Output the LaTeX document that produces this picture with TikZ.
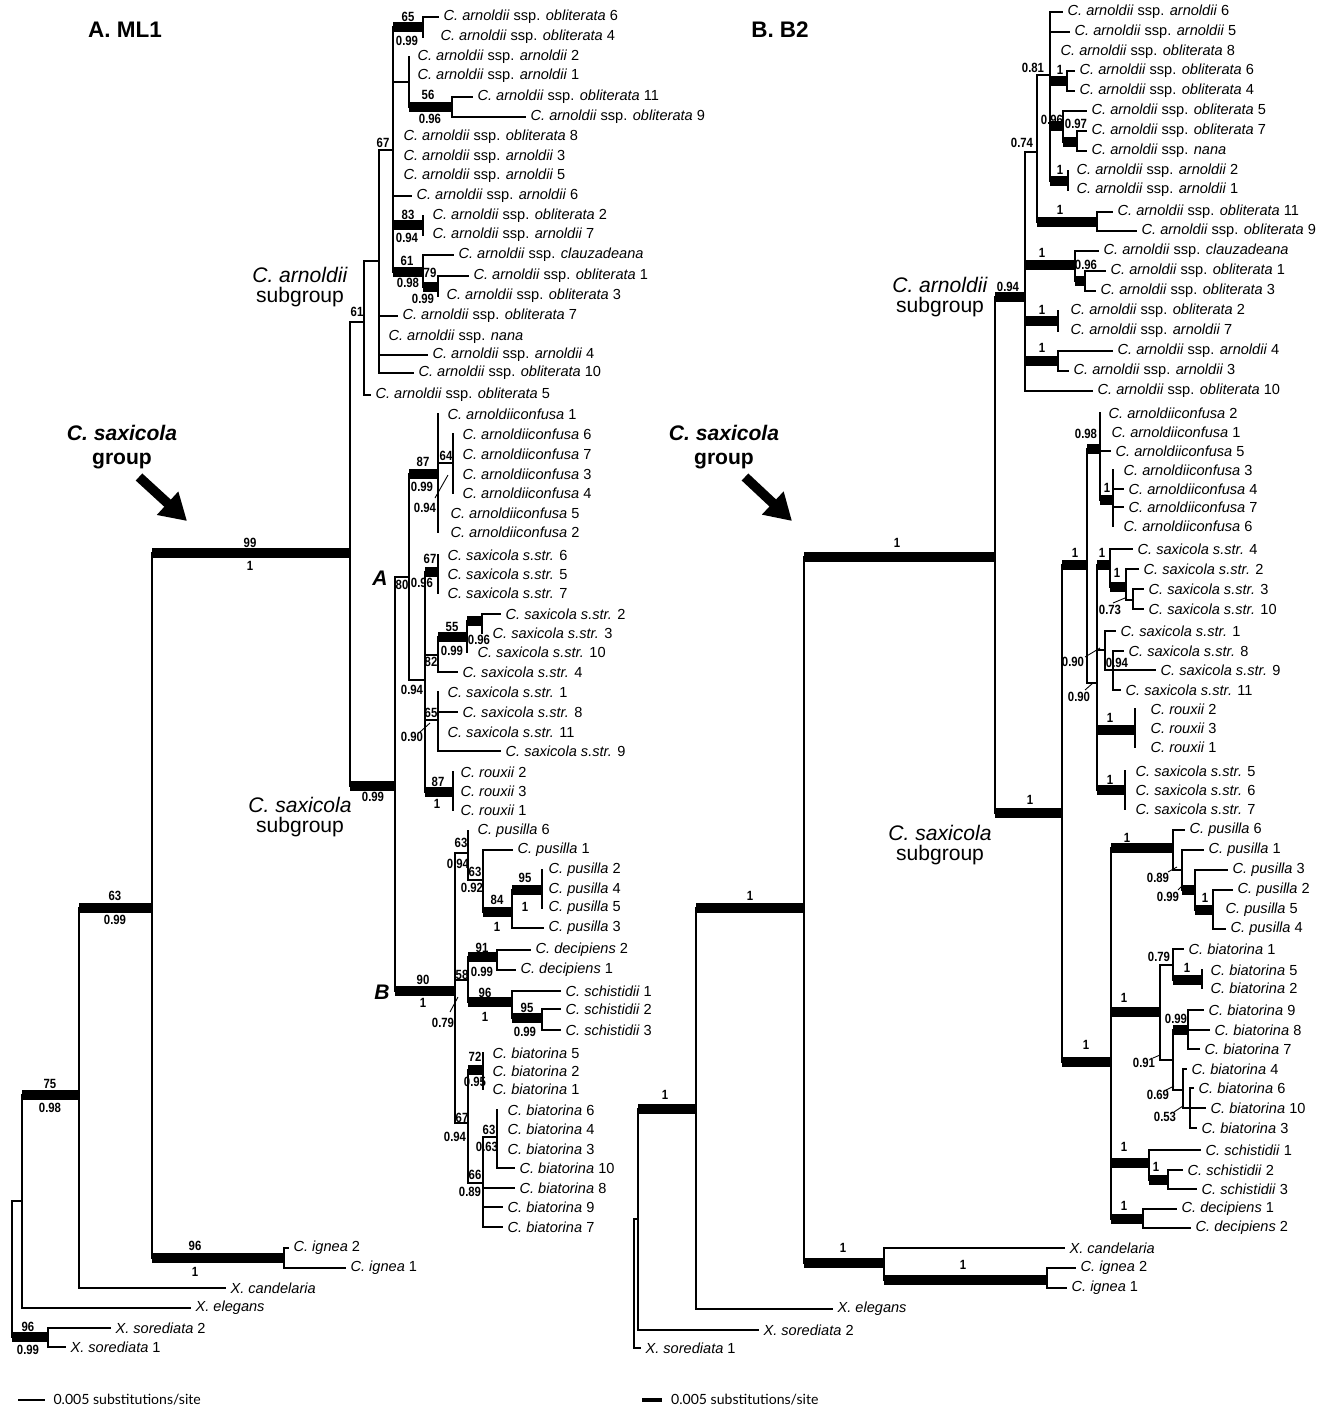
\documentclass[tikz,border=0pt]{standalone}
\usepackage{fontspec}
\setmainfont{Liberation Sans}
\newfontfamily\barfont{Lato}
\newfontfamily\supfont{Liberation Sans}[FakeStretch=0.85]
\usetikzlibrary{arrows.meta}

\newcommand\Ca[2]{\textit{C. arnoldii} ssp. \textit{#1} #2}
\newcommand\Sp[2]{\textit{#1} #2}
\newcommand\twig[2]{\draw[br] (#1 |- #2) -- (#2.west);}

\begin{document}
\begin{tikzpicture}[x=0.02cm, y=-0.02cm,
  br/.style={line width=1.1pt, line cap=rect},
  sbr/.style={line width=5.4pt},
  tip/.style={anchor=west, inner xsep=3pt, inner ysep=1pt, font=\fontsize{8.3}{9}\selectfont},
  sup/.style={inner sep=0pt, font=\supfont\fontsize{7.6}{8}\selectfont\bfseries},
  grp/.style={align=center, font=\fontsize{12}{11.5}\selectfont},
  sgrp/.style={align=center, font=\fontsize{12}{13.6}\selectfont\bfseries},
  hdr/.style={font=\fontsize{12.8}{14}\selectfont\bfseries},
  slash/.style={line width=0.5pt},
  fat/.style={line width=5.5pt, -{Triangle[length=15pt,width=17pt]}}]

\useasboundingbox (0,0) rectangle (1328,1410);

%-- headers
\node[hdr] (hA) at (125,30) {A. ML1};
\node[hdr] (hB) at (780,30) {B. B2};

%================ A. ML1 ================
%-- tips
\foreach \n/\x/\y/\t in {
  aob6/438/17/{\Ca{obliterata}{6}}, aob4/435/37/{\Ca{obliterata}{4}},
  aar2/412/57/{\Ca{arnoldii}{2}}, aar1/412/76/{\Ca{arnoldii}{1}},
  aob11/472/97/{\Ca{obliterata}{11}}, aob9/525/117/{\Ca{obliterata}{9}},
  aob8/398/137/{\Ca{obliterata}{8}}, aar3/398/157/{\Ca{arnoldii}{3}},
  aar5/398/176/{\Ca{arnoldii}{5}}, aar6/411/196/{\Ca{arnoldii}{6}},
  aob2/427/216/{\Ca{obliterata}{2}}, aar7/427/235/{\Ca{arnoldii}{7}},
  acla/453/255/{\Ca{clauzadeana}{}}, aob1/468/276/{\Ca{obliterata}{1}},
  aob3/441/296/{\Ca{obliterata}{3}}, aob7/397/316/{\Ca{obliterata}{7}},
  anana/383/337/{\Ca{nana}{}}, aar4/427/355/{\Ca{arnoldii}{4}},
  aob10/413/373/{\Ca{obliterata}{10}}, aob5/370/395/{\Ca{obliterata}{5}},
  acf1/442/414/{\Sp{C. arnoldiiconfusa}{1}}, acf6/457/434/{\Sp{C. arnoldiiconfusa}{6}},
  acf7/457/454/{\Sp{C. arnoldiiconfusa}{7}}, acf3/457/474/{\Sp{C. arnoldiiconfusa}{3}},
  acf4/457/493/{\Sp{C. arnoldiiconfusa}{4}}, acf5/445/513/{\Sp{C. arnoldiiconfusa}{5}},
  acf2/445/532/{\Sp{C. arnoldiiconfusa}{2}},
  asx6/442/555/{\Sp{C. saxicola s.str.}{6}}, asx5/442/574/{\Sp{C. saxicola s.str.}{5}},
  asx7/442/593/{\Sp{C. saxicola s.str.}{7}}, asx2/500/614/{\Sp{C. saxicola s.str.}{2}},
  asx3/487/633/{\Sp{C. saxicola s.str.}{3}}, asx10/472/652/{\Sp{C. saxicola s.str.}{10}},
  asx4/457/672/{\Sp{C. saxicola s.str.}{4}}, asx1/442/692/{\Sp{C. saxicola s.str.}{1}},
  asx8/457/712/{\Sp{C. saxicola s.str.}{8}}, asx11/442/732/{\Sp{C. saxicola s.str.}{11}},
  asx9/500/751/{\Sp{C. saxicola s.str.}{9}},
  arx2/455/772/{\Sp{C. rouxii}{2}}, arx3/455/791/{\Sp{C. rouxii}{3}},
  arx1/455/810/{\Sp{C. rouxii}{1}},
  apu6/472/831/{\Sp{C. pusilla}{6}}, apu1/512/850/{\Sp{C. pusilla}{1}},
  apu2/543/870/{\Sp{C. pusilla}{2}}, apu4/543/890/{\Sp{C. pusilla}{4}},
  apu5/543/908/{\Sp{C. pusilla}{5}}, apu3/543/928/{\Sp{C. pusilla}{3}},
  ade2/530/950/{\Sp{C. decipiens}{2}}, ade1/515/970/{\Sp{C. decipiens}{1}},
  asc1/560/991/{\Sp{C. schistidii}{1}}, asc2/560/1009/{\Sp{C. schistidii}{2}},
  asc3/560/1030/{\Sp{C. schistidii}{3}},
  abi5/487/1053/{\Sp{C. biatorina}{5}}, abi2/487/1071/{\Sp{C. biatorina}{2}},
  abi1/487/1089/{\Sp{C. biatorina}{1}}, abi6/502/1110/{\Sp{C. biatorina}{6}},
  abi4/502/1129/{\Sp{C. biatorina}{4}}, abi3/502/1149/{\Sp{C. biatorina}{3}},
  abi10/514/1168/{\Sp{C. biatorina}{10}}, abi8/514/1188/{\Sp{C. biatorina}{8}},
  abi9/502/1207/{\Sp{C. biatorina}{9}}, abi7/502/1227/{\Sp{C. biatorina}{7}},
  aig2/288/1248/{\Sp{C. ignea}{2}}, aig1/345/1268/{\Sp{C. ignea}{1}},
  acan/225/1288/{\Sp{X. candelaria}{}}, aele/190/1308/{\Sp{X. elegans}{}},
  aso2/110/1328/{\Sp{X. sorediata}{2}}, aso1/65/1347/{\Sp{X. sorediata}{1}}}
  \node[tip] (\n) at (\x,\y) {\t};

%-- internal nodes (x, height where the node hangs)
\foreach \n/\x/\y in {nAroot/12/1270, nA22/22/1201, nAsor/48/1337, nA75/79/1095,
  nA63/152/908, nAign/284/1258, nA99/350/553, nA61/364/322, nAsub/379/261,
  nA67/393/150, nA65/423/27, nA56p/409/82, nA56/452/107, nA83/423/225,
  nA61b/423/272, nA79/438/287, nAsx/395/786, nA80/409/577, nA87/438/474,
  nA64/453/463, nA94/425/680, nA67s/438/572, nA82/438/655, nA55/467/637,
  nA96/482/621, nA65s/438/720, nA87r/453/792, nAB/455/991, nA63a/468/853,
  nA63b/483/880, nA84/512/912, nA95/542/890, nA58/468/980, nA91/497/957,
  nA96s/512/1002, nA95s/542/1018, nA67b/468/1123, nA72/483/1070,
  nA66/483/1183, nA63c/497/1137}
  \coordinate (\n) at (\x,\y);

%-- vertical spines
\foreach \n/\a/\b in {nAroot/nA22/nAsor, nA22/nA75/aele, nA75/nA63/acan,
  nA63/nA99/nAign, nAign/aig2/aig1, nAsor/aso2/aso1, nA99/nA61/nAsx,
  nA61/nAsub/aob5, nAsub/nA67/aob10, nA67/nA65/nA61b, nA65/aob6/aob4,
  nA56p/aar2/nA56, nA56/aob11/aob9, nA83/aob2/aar7, nA61b/acla/nA79,
  nA79/aob1/aob3, nAsx/nA80/nAB, nA80/nA87/nA94, nA87/acf1/acf2,
  nA64/acf6/acf4, nA94/nA67s/nA87r, nA67s/asx6/asx7, nA82/nA55/asx4,
  nA55/nA96/asx10, nA96/asx2/asx3, nA65s/asx1/asx9, nA87r/arx2/arx1,
  nAB/nA63a/nA67b, nA63a/apu6/nA63b, nA63b/apu1/nA84, nA84/nA95/apu3,
  nA95/apu2/apu5, nA58/nA91/nA96s, nA91/ade2/ade1, nA96s/asc1/nA95s,
  nA95s/asc2/asc3, nA67b/nA72/nA66, nA72/abi5/abi1, nA66/nA63c/abi7,
  nA63c/abi6/abi10}
  \draw[br] (\n |- \a) -- (\n |- \b);

%-- supported branches
\foreach \p/\c in {nA22/nA75, nAroot/nAsor, nA75/nA63, nA63/nA99, nA63/nAign,
  nA99/nAsx, nA67/nA65, nA56p/nA56, nA67/nA83, nA67/nA61b, nA61b/nA79,
  nA80/nA87, nA94/nA67s, nA82/nA55, nA55/nA96, nA94/nA87r, nAsx/nAB,
  nA84/nA95, nA63b/nA84, nA58/nA91, nA58/nA96s, nA96s/nA95s, nA67b/nA72}
  \draw[sbr] (\p |- \c) -- (\c);

%-- other branches
\foreach \p/\c in {nAroot/nA22, nA99/nA61, nA61/nAsub, nAsub/nA67, nA67/nA56p,
  nAsx/nA80, nA87/nA64, nA80/nA94, nA94/nA82, nA94/nA65s, nAB/nA63a,
  nA63a/nA63b, nAB/nA58, nAB/nA67b, nA67b/nA66, nA66/nA63c}
  \draw[br] (\p |- \c) -- (\c);

%-- terminal branches
\foreach \p/\c in {nAign/aig1, nAign/aig2, nA75/acan, nA22/aele, nAsor/aso2,
  nAsor/aso1, nA65/aob6, nA56/aob11, nA56/aob9, nA67/aar6, nA61b/acla,
  nA79/aob1, nAsub/aob7, nAsub/aar4, nAsub/aob10, nA61/aob5, nA96/asx2,
  nA82/asx4, nA65s/asx8, nA65s/asx9, nA63b/apu1, nA84/apu3, nA91/ade2,
  nA91/ade1, nA96s/asc1, nA95s/asc2, nA95s/asc3, nA63c/abi10, nA66/abi8,
  nA66/abi9, nA66/abi7}
  {\twig{\p}{\c}}

%-- support values
\foreach \x/\y/\t [count=\i] in {408/17/65, 407/41/0.99, 428/95/56, 430/119/0.96,
  383/143/67, 408/215/83, 407/238/0.94, 407/261/61, 408/283/0.98, 430/273/79,
  423/299/0.99, 357/312/61, 250/543/99, 250/566/1, 373/797/0.99, 402/585/80,
  423/462/87, 422/487/0.99, 446/456/64, 425/508/0.94, 430/559/67, 422/583/0.96,
  412/690/0.94, 431/662/82, 452/627/55, 452/651/0.99, 479/640/0.96, 431/713/65,
  412/737/0.90, 438/782/87, 437/804/1, 423/980/90, 423/1003/1, 461/843/63,
  458/864/0.94, 475/872/63, 472/888/0.92, 497/900/84, 497/927/1, 525/878/95,
  525/907/1, 462/975/58, 443/1023/0.79, 482/948/91, 482/972/0.99, 485/993/96,
  485/1017/1, 527/1008/95, 525/1032/0.99, 462/1118/67, 455/1137/0.94,
  475/1057/72, 475/1082/0.95, 475/1175/66, 470/1192/0.89, 489/1130/63,
  487/1147/0.63, 115/896/63, 115/920/0.99, 195/1246/96, 195/1272/1,
  50/1084/75, 50/1108/0.98, 28/1327/96, 28/1350/0.99}
  \node[sup] (sa\i) at (\x,\y) {\t};

\draw[slash] (435,498) -- (448,475);
\draw[slash] (420,732) -- (430,723);
\draw[slash] (450,1012) -- (458,997);

%-- clade labels
\node[font=\fontsize{12}{14}\selectfont\bfseries\itshape] (cA) at (380,578) {A};
\node[font=\fontsize{12}{14}\selectfont\bfseries\itshape] (cB) at (382,992) {B};
\node[grp] (gA1) at (300,287) {\textit{C. arnoldii}\\subgroup};
\node[grp] (gA2) at (300,817) {\textit{C. saxicola}\\subgroup};
\node[sgrp] (gA3) at (122,447) {\textit{C. saxicola}\\group};
\draw[fat] (139,477) -- (187,521);

%-- scale
\coordinate (sbA1) at (18,1400);
\coordinate (sbA2) at (45,1400);
\draw[br, line cap=butt] (sbA1) -- (sbA2)
  node[right=1pt, font=\barfont\fontsize{8}{9}\selectfont] (sbtA) {0.005 substitutions/site};

%================ B. B2 ================
%-- tips
\foreach \n/\x/\y/\t in {
  bar6/1062/12/{\Ca{arnoldii}{6}}, bar5/1069/32/{\Ca{arnoldii}{5}},
  bob8/1055/52/{\Ca{obliterata}{8}}, bob6/1074/71/{\Ca{obliterata}{6}},
  bob4/1074/91/{\Ca{obliterata}{4}}, bob5/1086/111/{\Ca{obliterata}{5}},
  bob7/1086/131/{\Ca{obliterata}{7}}, bnana/1086/151/{\Ca{nana}{}},
  bar2/1071/171/{\Ca{arnoldii}{2}}, bar1/1071/190/{\Ca{arnoldii}{1}},
  bob11/1112/212/{\Ca{obliterata}{11}}, bob9/1136/231/{\Ca{obliterata}{9}},
  bcla/1098/251/{\Ca{clauzadeana}{}}, bob1/1105/271/{\Ca{obliterata}{1}},
  bob3/1095/291/{\Ca{obliterata}{3}}, bob2/1065/311/{\Ca{obliterata}{2}},
  bar7/1065/331/{\Ca{arnoldii}{7}}, bar4/1112/351/{\Ca{arnoldii}{4}},
  bar3/1068/371/{\Ca{arnoldii}{3}}, bob10/1092/391/{\Ca{obliterata}{10}},
  bcf2/1103/413/{\Sp{C. arnoldiiconfusa}{2}}, bcf1/1106/432/{\Sp{C. arnoldiiconfusa}{1}},
  bcf5/1110/451/{\Sp{C. arnoldiiconfusa}{5}}, bcf3/1118/470/{\Sp{C. arnoldiiconfusa}{3}},
  bcf4/1123/489/{\Sp{C. arnoldiiconfusa}{4}}, bcf7/1123/507/{\Sp{C. arnoldiiconfusa}{7}},
  bcf6/1118/526/{\Sp{C. arnoldiiconfusa}{6}},
  bsx4/1132/549/{\Sp{C. saxicola s.str.}{4}}, bsx2/1138/569/{\Sp{C. saxicola s.str.}{2}},
  bsx3/1143/589/{\Sp{C. saxicola s.str.}{3}}, bsx10/1143/609/{\Sp{C. saxicola s.str.}{10}},
  bsx1/1115/631/{\Sp{C. saxicola s.str.}{1}}, bsx8/1123/651/{\Sp{C. saxicola s.str.}{8}},
  bsx9/1155/670/{\Sp{C. saxicola s.str.}{9}}, bsx11/1120/690/{\Sp{C. saxicola s.str.}{11}},
  brx2/1145/709/{\Sp{C. rouxii}{2}}, brx3/1145/728/{\Sp{C. rouxii}{3}},
  brx1/1145/747/{\Sp{C. rouxii}{1}},
  bsx5/1130/771/{\Sp{C. saxicola s.str.}{5}}, bsx6/1130/790/{\Sp{C. saxicola s.str.}{6}},
  bsx7/1130/809/{\Sp{C. saxicola s.str.}{7}},
  bpu6/1184/830/{\Sp{C. pusilla}{6}}, bpu1/1203/850/{\Sp{C. pusilla}{1}},
  bpu3/1227/870/{\Sp{C. pusilla}{3}}, bpu2/1232/890/{\Sp{C. pusilla}{2}},
  bpu5/1220/910/{\Sp{C. pusilla}{5}}, bpu4/1225/929/{\Sp{C. pusilla}{4}},
  bbi1/1183/949/{\Sp{C. biatorina}{1}}, bbi5/1205/970/{\Sp{C. biatorina}{5}},
  bbi2/1205/988/{\Sp{C. biatorina}{2}}, bbi9/1203/1010/{\Sp{C. biatorina}{9}},
  bbi8/1209/1030/{\Sp{C. biatorina}{8}}, bbi7/1199/1049/{\Sp{C. biatorina}{7}},
  bbi4/1186/1069/{\Sp{C. biatorina}{4}}, bbi6/1193/1088/{\Sp{C. biatorina}{6}},
  bbi10/1205/1108/{\Sp{C. biatorina}{10}}, bbi3/1196/1128/{\Sp{C. biatorina}{3}},
  bsc1/1200/1150/{\Sp{C. schistidii}{1}}, bsc2/1182/1170/{\Sp{C. schistidii}{2}},
  bsc3/1196/1189/{\Sp{C. schistidii}{3}},
  bde1/1176/1209/{\Sp{C. decipiens}{1}}, bde2/1190/1228/{\Sp{C. decipiens}{2}},
  bcan/1064/1248/{\Sp{X. candelaria}{}}, big2/1075/1268/{\Sp{C. ignea}{2}},
  big1/1066/1288/{\Sp{C. ignea}{1}}, bele/832/1309/{\Sp{X. elegans}{}},
  bso2/758/1330/{\Sp{X. sorediata}{2}}, bso1/640/1348/{\Sp{X. sorediata}{1}}}
  \node[tip] (\n) at (\x,\y) {\t};

%-- internal nodes
\foreach \n/\x/\y in {nBroot/634/1280, nB638/638/1219, nB1a/696/1109,
  nB1b/804/908, nB1c/995/557, nBout/884/1263, nBign/1047/1280,
  nB094/1025/297, nB074/1037/152, nB081/1050/75, nBo64/1067/81,
  nB096/1063/126, nB097/1077/142, nBar12/1068/181, nBo119/1097/222,
  nBcla/1075/265, nBc096/1085/281, nBo2/1058/321, nBa4/1058/361,
  nBsx/1062/813, nBs1/1087/565, nB098/1100/449, nBac1/1113/500,
  nB090a/1097/683, nBsx4/1110/565, nBsx2/1126/587, nB073/1133/600,
  nB090b/1105/650, nB094s/1113/670, nBrx/1135/730, nBs567/1125/790,
  nBlow/1111/1062, nBpu/1173/848, nB089/1182/870, nB099p/1195/890,
  nBp1/1213/910, nBbia/1160/1012, nB079/1173/965, nBb52/1202/980,
  nB091/1173/1060, nB099b/1188/1030, nB069/1183/1090, nB053/1190/1108,
  nBsch/1149/1163, nBsch2/1168/1180, nBdec/1143/1219}
  \coordinate (\n) at (\x,\y);

%-- vertical spines
\foreach \n/\a/\b in {nBroot/nB638/bso1, nB638/nB1a/bso2, nB1a/nB1b/bele,
  nB1b/nB1c/nBout, nB1c/nB094/nBsx, nBout/bcan/nBign, nBign/big2/big1,
  nB094/nB074/bob10, nB074/nB081/nBo119, nB081/bar6/nBar12, nBo64/bob6/bob4,
  nB096/bob5/nB097, nB097/bob7/bnana, nBar12/bar2/bar1, nBo119/bob11/bob9,
  nBcla/bcla/nBc096, nBc096/bob1/bob3, nBo2/bob2/bar7, nBa4/bar4/bar3,
  nBsx/nBs1/nBlow, nBs1/nB098/nB090a, nB098/bcf2/nBac1, nBac1/bcf3/bcf6,
  nB090a/nBsx4/nBs567, nBsx4/bsx4/nBsx2, nBsx2/bsx2/nB073, nB073/bsx3/bsx10,
  nB090b/bsx1/nB094s, nB094s/bsx8/bsx11, nBrx/brx2/brx1, nBs567/bsx5/bsx7,
  nBlow/nBpu/nBdec, nBpu/bpu6/nB089, nB089/bpu1/nB099p, nB099p/bpu3/nBp1,
  nBp1/bpu2/bpu4, nBbia/nB079/nB091, nB079/bbi1/nBb52, nBb52/bbi5/bbi2,
  nB091/nB099b/nB069, nB099b/bbi9/bbi7, nB069/bbi4/nB053, nB053/bbi6/bbi3,
  nBsch/bsc1/nBsch2, nBsch2/bsc2/bsc3, nBdec/bde1/bde2}
  \draw[br] (\n |- \a) -- (\n |- \b);

%-- supported branches
\foreach \p/\c in {nB638/nB1a, nB1a/nB1b, nB1b/nB1c, nB1b/nBout, nBout/nBign,
  nB1c/nB094, nB081/nBo64, nB081/nB096, nB096/nB097, nB081/nBar12,
  nB074/nBo119, nB094/nBcla, nBcla/nBc096, nB094/nBo2, nB094/nBa4,
  nB1c/nBsx, nBsx/nBs1, nBs1/nB098, nB098/nBac1, nB090a/nBsx4,
  nBsx4/nBsx2, nB090a/nBrx, nB090a/nBs567, nBsx/nBlow, nBlow/nBpu,
  nB089/nB099p, nB099p/nBp1, nBlow/nBbia, nB079/nBb52, nB091/nB099b,
  nBlow/nBsch, nBsch/nBsch2, nBlow/nBdec}
  \draw[sbr] (\p |- \c) -- (\c);

%-- other branches
\foreach \p/\c in {nBroot/nB638, nB094/nB074, nB074/nB081, nBs1/nB090a,
  nBsx2/nB073, nB090a/nB090b, nB090b/nB094s, nBpu/nB089, nBbia/nB079,
  nBbia/nB091, nB091/nB069, nB069/nB053}
  \draw[br] (\p |- \c) -- (\c);

%-- terminal branches
\foreach \p/\c in {nB081/bar6, nB081/bar5, nBo64/bob6, nBo64/bob4, nB096/bob5,
  nB097/bob7, nB097/bnana, nBo119/bob11, nBo119/bob9, nBcla/bcla,
  nBc096/bob1, nBc096/bob3, nBa4/bar4, nBa4/bar3, nB094/bob10, nB098/bcf5,
  nBac1/bcf4, nBac1/bcf7, nBsx4/bsx4, nBsx2/bsx2, nB073/bsx3, nB073/bsx10,
  nB090b/bsx1, nB094s/bsx8, nB094s/bsx9, nB094s/bsx11, nBpu/bpu6,
  nB089/bpu1, nB099p/bpu3, nBp1/bpu2, nBp1/bpu4, nB079/bbi1, nB099b/bbi9,
  nB099b/bbi8, nB099b/bbi7, nB069/bbi4, nB053/bbi6, nB053/bbi10, nB053/bbi3,
  nBsch/bsc1, nBsch2/bsc2, nBsch2/bsc3, nBdec/bde1, nBdec/bde2, nBout/bcan,
  nBign/big1, nBign/big2, nB1a/bele, nB638/bso2, nBroot/bso1}
  {\twig{\p}{\c}}

%-- support values
\foreach \x/\y/\t [count=\i] in {897/543/1, 750/896/1, 665/1095/1, 843/1248/1,
  963/1265/1, 1008/287/0.94, 1022/143/0.74, 1033/68/0.81, 1060/70/1,
  1052/120/0.96, 1076/124/0.97, 1060/170/1, 1060/210/1, 1042/253/1,
  1086/265/0.96, 1042/310/1, 1042/348/1, 1030/800/1, 1075/553/1,
  1086/434/0.98, 1107/488/1, 1102/553/1, 1117/573/1, 1110/610/0.73,
  1073/662/0.90, 1079/697/0.90, 1117/663/0.94, 1110/718/1, 1110/780/1,
  1086/1045/1, 1127/838/1, 1158/878/0.89, 1168/897/0.99, 1205/898/1,
  1124/998/1, 1159/957/0.79, 1187/968/1, 1176/1019/0.99, 1144/1063/0.91,
  1158/1095/0.69, 1165/1117/0.53, 1124/1147/1, 1156/1167/1, 1124/1206/1}
  \node[sup] (sb\i) at (\x,\y) {\t};

\draw[slash] (1113,603) -- (1125,598);
\draw[slash] (1085,657) -- (1100,648);
\draw[slash] (1085,690) -- (1093,683);
\draw[slash] (1168,872) -- (1177,867);
\draw[slash] (1178,890) -- (1183,885);
\draw[slash] (1153,1058) -- (1160,1055);
\draw[slash] (1166,1090) -- (1174,1086);
\draw[slash] (1174,1112) -- (1183,1106);

%-- clade labels
\node[grp] (gB1) at (940,297) {\textit{C. arnoldii}\\subgroup};
\node[grp] (gB2) at (940,845) {\textit{C. saxicola}\\subgroup};
\node[sgrp] (gB3) at (724,447) {\textit{C. saxicola}\\group};
\draw[fat] (745,477) -- (792,521);

%-- scale
\coordinate (sbB1) at (642,1400);
\coordinate (sbB2) at (662,1400);
\draw[br, line width=1.8pt, line cap=butt] (sbB1) -- (sbB2)
  node[right=1pt, font=\barfont\fontsize{8}{9}\selectfont] (sbtB) {0.005 substitutions/site};

\end{tikzpicture}
\end{document}
